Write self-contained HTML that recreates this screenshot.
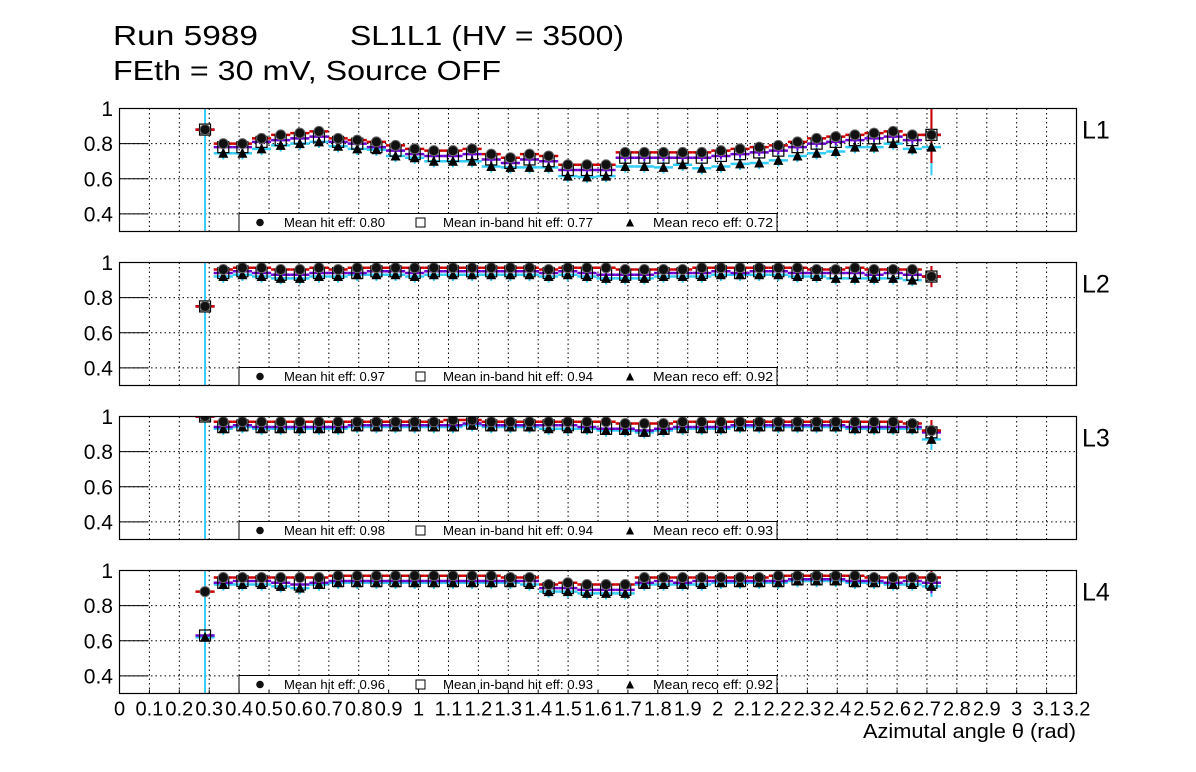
<!DOCTYPE html>
<html><head><meta charset="utf-8"><style>
html,body{margin:0;padding:0;background:#fff;}
svg{display:block;font-family:"Liberation Sans",Arial,sans-serif;}
</style></head><body>
<svg id="chart" width="1196" height="772" viewBox="0 0 1196 772">
<text x="113" y="45" font-size="28" textLength="145" lengthAdjust="spacingAndGlyphs">Run 5989</text>
<text x="350" y="45" font-size="28" textLength="274" lengthAdjust="spacingAndGlyphs">SL1L1 (HV = 3500)</text>
<text x="113" y="80" font-size="28" textLength="388" lengthAdjust="spacingAndGlyphs">FEth = 30 mV, Source OFF</text>
<text x="1076" y="738" font-size="20" text-anchor="end" textLength="213" lengthAdjust="spacingAndGlyphs">Azimutal angle θ (rad)</text>
<g id="panels"></g>
</svg>
<script>
const layers = ["L1","L2","L3","L4"];
const meanHit = ["0.80","0.97","0.98","0.96"];
const meanBand = ["0.77","0.94","0.94","0.93"];
const meanReco = ["0.72","0.92","0.93","0.92"];
const xTickLabels = ["0","0.1","0.2","0.3","0.4","0.5","0.6","0.7","0.8","0.9","1","1.1","1.2","1.3","1.4","1.5","1.6","1.7","1.8","1.9","2","2.1","2.2","2.3","2.4","2.5","2.6","2.7","2.8","2.9","3","3.1","3.2"];
const yTickLabels = ["0.4","0.6","0.8","1"];
const firstAngle = 0.286;
const startAngle = 0.347;
const binWidth = 0.064;
const firstHit = [0.88,0.75,1.0,0.88];
const firstBand = [0.88,0.75,1.0,0.63];
const firstReco = [0.88,0.75,1.0,0.62];
const hitL1 = [0.80,0.80,0.83,0.85,0.86,0.87,0.83,0.82,0.81,0.79,0.77,0.76,0.76,0.77,0.74,0.72,0.74,0.73,0.68,0.68,0.68,0.75,0.75,0.75,0.75,0.75,0.76,0.77,0.78,0.79,0.81,0.83,0.84,0.85,0.86,0.87,0.85,0.85];
const bandL1 = [0.78,0.78,0.81,0.82,0.83,0.84,0.81,0.80,0.78,0.76,0.74,0.73,0.73,0.74,0.71,0.69,0.71,0.70,0.65,0.65,0.65,0.72,0.72,0.72,0.72,0.72,0.73,0.74,0.75,0.76,0.78,0.80,0.81,0.82,0.83,0.84,0.82,0.85];
const recoL1 = [0.745,0.745,0.77,0.79,0.80,0.81,0.785,0.77,0.765,0.73,0.72,0.70,0.70,0.70,0.67,0.665,0.665,0.665,0.615,0.61,0.615,0.67,0.67,0.665,0.68,0.66,0.67,0.685,0.69,0.705,0.73,0.745,0.755,0.78,0.78,0.80,0.77,0.78];
const hitL2 = [0.96,0.97,0.97,0.96,0.96,0.97,0.96,0.97,0.97,0.97,0.97,0.97,0.97,0.97,0.97,0.97,0.97,0.96,0.97,0.97,0.97,0.96,0.96,0.96,0.96,0.97,0.97,0.97,0.97,0.97,0.97,0.96,0.96,0.97,0.96,0.96,0.96,0.92];
const bandL2 = [0.94,0.95,0.94,0.93,0.93,0.94,0.94,0.94,0.95,0.95,0.94,0.95,0.95,0.95,0.95,0.95,0.95,0.94,0.95,0.94,0.93,0.93,0.93,0.94,0.94,0.94,0.95,0.94,0.95,0.95,0.94,0.94,0.94,0.94,0.93,0.94,0.93,0.92];
const recoL2 = [0.92,0.93,0.92,0.91,0.91,0.92,0.92,0.93,0.93,0.93,0.92,0.93,0.93,0.93,0.93,0.93,0.93,0.92,0.93,0.92,0.91,0.91,0.91,0.92,0.92,0.92,0.93,0.93,0.93,0.93,0.92,0.92,0.91,0.91,0.91,0.91,0.90,0.92];
const hitL3 = [0.97,0.97,0.97,0.97,0.97,0.97,0.97,0.97,0.97,0.97,0.97,0.97,0.98,0.98,0.97,0.97,0.97,0.97,0.97,0.97,0.97,0.96,0.96,0.96,0.97,0.97,0.97,0.97,0.97,0.97,0.97,0.97,0.97,0.97,0.97,0.97,0.96,0.92];
const bandL3 = [0.94,0.95,0.94,0.94,0.94,0.94,0.94,0.95,0.95,0.95,0.95,0.95,0.95,0.96,0.95,0.95,0.95,0.95,0.95,0.94,0.93,0.93,0.92,0.93,0.94,0.94,0.94,0.95,0.95,0.95,0.95,0.95,0.95,0.94,0.94,0.94,0.94,0.91];
const recoL3 = [0.93,0.94,0.93,0.93,0.93,0.93,0.93,0.94,0.94,0.94,0.94,0.94,0.94,0.95,0.94,0.94,0.94,0.93,0.93,0.93,0.92,0.92,0.91,0.92,0.93,0.93,0.93,0.94,0.94,0.94,0.94,0.94,0.94,0.93,0.93,0.93,0.93,0.87];
const hitL4 = [0.96,0.96,0.96,0.96,0.96,0.96,0.97,0.97,0.97,0.97,0.97,0.97,0.97,0.97,0.97,0.96,0.96,0.92,0.93,0.92,0.92,0.92,0.96,0.96,0.96,0.96,0.96,0.96,0.96,0.97,0.97,0.97,0.97,0.97,0.96,0.96,0.96,0.96];
const bandL4 = [0.93,0.94,0.94,0.93,0.92,0.93,0.94,0.94,0.94,0.94,0.94,0.94,0.94,0.94,0.94,0.94,0.94,0.90,0.90,0.89,0.89,0.89,0.93,0.94,0.93,0.94,0.94,0.94,0.94,0.94,0.95,0.95,0.95,0.94,0.94,0.93,0.94,0.93];
const recoL4 = [0.92,0.92,0.92,0.91,0.90,0.92,0.93,0.93,0.93,0.93,0.93,0.93,0.93,0.93,0.93,0.93,0.92,0.88,0.88,0.87,0.87,0.87,0.92,0.92,0.92,0.92,0.93,0.93,0.93,0.93,0.94,0.94,0.94,0.93,0.93,0.92,0.92,0.91];
const hitAll = [hitL1,hitL2,hitL3,hitL4];
const bandAll = [bandL1,bandL2,bandL3,bandL4];
const recoAll = [recoL1,recoL2,recoL3,recoL4];

const NS = "http://www.w3.org/2000/svg";
const X0 = 119.5, X1 = 1076.5, XMAX = 3.2;
const panelTops = [108.5, 262.5, 416.5, 570.5];
const PH = 123, YMIN = 0.3, YMAX = 1.0;
const xs = v => X0 + (v / XMAX) * (X1 - X0);
function mk(tag, attrs, parent){const e=document.createElementNS(NS,tag);for(const k in attrs)e.setAttribute(k,attrs[k]);parent.appendChild(e);return e;}
const root = document.getElementById('panels');
const colHit="#cc0000", colBand="#6a00cc", colReco="#33ccf5";

layers.forEach((lab, p) => {
  const top = panelTops[p], bot = top + PH;
  const ys = v => bot - (v - YMIN) / (YMAX - YMIN) * PH;
  const g = mk('g', {}, root);
  
  
  const cp = mk('clipPath', {id: 'clip' + p}, g);
  mk('rect', {x: X0, y: top, width: X1 - X0, height: PH}, cp);
  for (let i = 1; i < xTickLabels.length - 1; i++) {
    const gl = mk('line', {x1: xs(+xTickLabels[i]), x2: xs(+xTickLabels[i]), y1: top, y2: bot, stroke: '#000', 'stroke-width': 1, 'stroke-dasharray': '1.5,3'}, g);
    
    
  }
  yTickLabels.forEach(t => {
    const v = +t, y = ys(v);
    if (v < 1) {
      const gl = mk('line', {x1: X0, x2: X1, y1: y, y2: y, stroke: '#000', 'stroke-width': 1, 'stroke-dasharray': '1.5,3'}, g);
      
      
      const tk = mk('line', {x1: X0, x2: X0 + 29, y1: y, y2: y, stroke: '#000', 'stroke-width': 1}, g);
      
      
    }
    const tl = mk('text', {x: 113, y: y + 7.5, 'font-size': 21, 'text-anchor': 'end'}, g);
    tl.textContent = t;
    
    
  });
  const dg = mk('g', {'clip-path': 'url(#clip' + p + ')'}, g);
  
  
  const series = [
    {vals: recoAll[p], first: firstReco[p], col: colReco, err: 0.035, name: 'reco-eff'},
    {vals: bandAll[p], first: firstBand[p], col: colBand, err: 0.02, name: 'in-band-hit-eff'},
    {vals: hitAll[p], first: firstHit[p], col: colHit, err: 0.022, name: 'hit-eff'}
  ];
  series.forEach(s => {
    const hf = mk('line', {x1: xs(firstAngle - 0.032), x2: xs(firstAngle + 0.032), y1: ys(s.first), y2: ys(s.first), stroke: s.col, 'stroke-width': 2.5}, dg);
    
    
    s.vals.forEach((v, i) => {
      const c = startAngle + i * binWidth;
      const hl = mk('line', {x1: xs(c - binWidth / 2), x2: xs(c + binWidth / 2), y1: ys(v), y2: ys(v), stroke: s.col, 'stroke-width': 2.5}, dg);
      
      
      const last = i === s.vals.length - 1;
      const e = (last && p === 0) ? 0.16 : (last ? 0.06 : s.err);
      const ve = mk('line', {x1: xs(c), x2: xs(c), y1: ys(v + e), y2: ys(v - e), stroke: s.col, 'stroke-width': 2}, dg);
      
      
    });
  });
  const fe = mk('line', {x1: xs(firstAngle), x2: xs(firstAngle), y1: top, y2: bot, stroke: colReco, 'stroke-width': 2}, dg);
  
  
  function drawMarkers(x, h, b, r) {
    const tri = mk('path', {d: `M${x - 5},${ys(r) + 4.5} L${x + 5},${ys(r) + 4.5} L${x},${ys(r) - 5.5} Z`, fill: '#000'}, dg);
    
    
    const sq = mk('rect', {x: x - 5.5, y: ys(b) - 5.5, width: 11, height: 11, fill: 'none', stroke: '#000', 'stroke-width': 1.2}, dg);
    
    
    const ci = mk('circle', {cx: x, cy: ys(h), r: 5, fill: '#111', stroke: '#666', 'stroke-width': 1}, dg);
    
    
  }
  drawMarkers(xs(firstAngle), firstHit[p], firstBand[p], firstReco[p]);
  hitAll[p].forEach((v, i) => drawMarkers(xs(startAngle + i * binWidth), v, bandAll[p][i], recoAll[p][i]));
  const fr = mk('rect', {x: X0, y: top, width: X1 - X0, height: PH, fill: 'none', stroke: '#000', 'stroke-width': 1.2}, g);
  
  
  const lg = mk('g', {}, g);
  
  
  mk('rect', {x: 239, y: bot - 18, width: 538, height: 18, fill: '#fff', stroke: '#000', 'stroke-width': 1}, lg);
  const ly = bot - 9;
  mk('circle', {cx: 260, cy: ly, r: 3.8, fill: '#111'}, lg);
  const t1 = mk('text', {x: 284, y: ly + 4.5, 'font-size': 13, textLength: 101, lengthAdjust: 'spacingAndGlyphs'}, lg); t1.textContent = 'Mean hit  eff: ' + meanHit[p];
   
  mk('rect', {x: 416, y: ly - 4.5, width: 9, height: 9, fill: 'none', stroke: '#000', 'stroke-width': 1}, lg);
  const t2 = mk('text', {x: 443, y: ly + 4.5, 'font-size': 13, textLength: 150, lengthAdjust: 'spacingAndGlyphs'}, lg); t2.textContent = 'Mean in-band hit eff: ' + meanBand[p];
   
  mk('path', {d: `M${626},${ly + 4} L${634},${ly + 4} L${630},${ly - 4} Z`, fill: '#000'}, lg);
  const t3 = mk('text', {x: 653, y: ly + 4.5, 'font-size': 13, textLength: 120, lengthAdjust: 'spacingAndGlyphs'}, lg); t3.textContent = 'Mean reco eff: ' + meanReco[p];
   
  const ll = mk('text', {x: 1082, y: top + 30, 'font-size': 25}, g);
  ll.textContent = lab;
  
  
  if (p === layers.length - 1) {
    xTickLabels.forEach(t => {
      const x = xs(+t);
      const tk = mk('line', {x1: x, x2: x, y1: bot, y2: bot - 4, stroke: '#000', 'stroke-width': 1}, g);
      
      
      const tl = mk('text', {x: x, y: bot + 22, 'font-size': 20, 'text-anchor': 'middle'}, g);
      tl.textContent = t;
      
      
    });
  }
});
</script>
</body></html>
